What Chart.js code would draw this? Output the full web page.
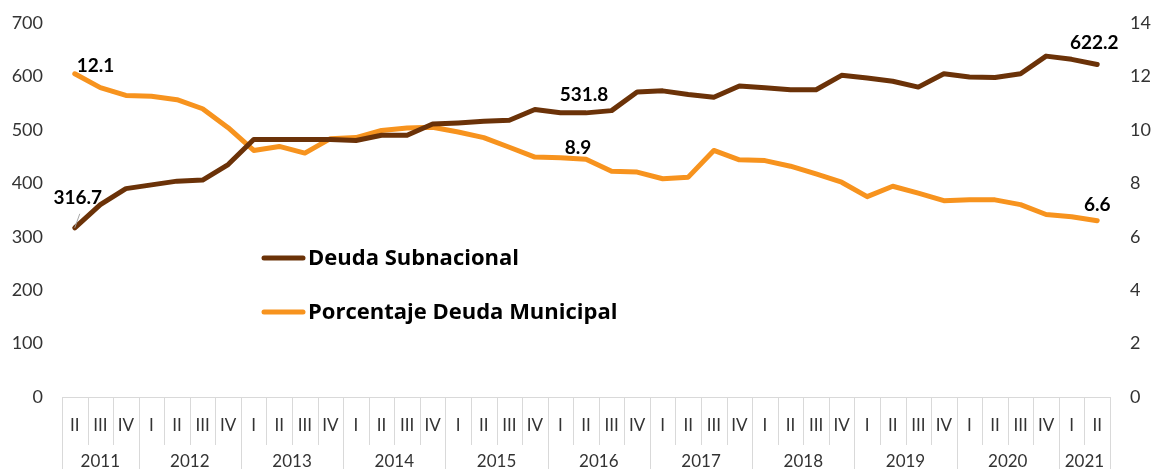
<!DOCTYPE html>
<html>
<head>
<meta charset="utf-8">
<script src="https://cdn.jsdelivr.net/npm/chart.js@4.4.0/dist/chart.umd.min.js"></script>
<style>
html,body{margin:0;padding:0;background:#fff;}
#wrap{width:1156px;height:469px;position:relative;}
</style>
</head>
<body>
<div id="wrap"><canvas id="c" width="1156" height="469"></canvas></div>
<script>
const quarters = ["II","III","IV",
  "I","II","III","IV","I","II","III","IV","I","II","III","IV","I","II","III","IV",
  "I","II","III","IV","I","II","III","IV","I","II","III","IV","I","II","III","IV",
  "I","II","III","IV","I","II"];
const years = ["2011","2012","2013","2014","2015","2016","2017","2018","2019","2020","2021"];
const quartersPerYear = [3,4,4,4,4,4,4,4,4,4,2];
const deudaSubnacional = [316.7,360,390,397,404,406,435,482,482,482,482,480,490,490,511,513,516,518,538,532,531.8,536,571,573,566,561,582,579,575,575,602,597,591,580,605,599,598,605,638,632,622.2];
const porcentajeMunicipal = [12.1,11.58,11.29,11.26,11.13,10.79,10.08,9.23,9.38,9.13,9.67,9.71,9.98,10.07,10.1,9.92,9.71,9.35,8.98,8.96,8.9,8.45,8.42,8.17,8.23,9.23,8.88,8.85,8.64,8.35,8.04,7.5,7.89,7.63,7.35,7.38,7.38,7.2,6.83,6.75,6.6];
const leftTicks = [0,100,200,300,400,500,600,700];
const rightTicks = [0,2,4,6,8,10,12,14];

const FONT = "Lato, 'Open Sans', sans-serif";
const LFONT = "'Open Sans', Lato, sans-serif";
const BROWN = "#6B3208";
const ORANGE = "#F7931E";

const custom = {
  id:'custom',
  afterDraw(chart){
    const ctx = chart.ctx;
    const x = chart.scales.x, ca = chart.chartArea;
    const H = chart.height;
    const step = x.getPixelForValue(1) - x.getPixelForValue(0);
    ctx.save();
    ctx.strokeStyle = "#D9D9D9";
    ctx.lineWidth = 1;
    ctx.beginPath();
    ctx.moveTo(ca.left, ca.bottom + 0.5);
    ctx.lineTo(ca.right, ca.bottom + 0.5);
    ctx.stroke();
    let yearBounds = new Set();
    let acc = 0;
    yearBounds.add(0);
    quartersPerYear.forEach(n => { acc += n; yearBounds.add(acc); });
    for (let i = 0; i <= quarters.length; i++) {
      const px = Math.round(x.getPixelForValue(i) - step/2) + 0.5;
      ctx.beginPath();
      ctx.moveTo(px, ca.bottom);
      ctx.lineTo(px, yearBounds.has(i) ? H : ca.bottom + 48);
      ctx.stroke();
    }
    ctx.fillStyle = "#333";
    ctx.font = "17px " + FONT;
    ctx.textAlign = "center";
    ctx.textBaseline = "middle";
    acc = 0;
    years.forEach((yv, k) => {
      const a = x.getPixelForValue(acc) - step/2;
      acc += quartersPerYear[k];
      const b = x.getPixelForValue(acc - 1) + step/2;
      ctx.fillText(yv, (a+b)/2, 462);
    });
    ctx.fillStyle = "#000";
    ctx.font = "bold 19px " + FONT;
    const m0 = chart.getDatasetMeta(0).data, m1 = chart.getDatasetMeta(1).data;
    const fmt = v => v.toFixed(1);
    ctx.fillText(fmt(deudaSubnacional[0]), m0[0].x + 3, m0[0].y - 30);
    ctx.strokeStyle = "#A6A6A6";
    ctx.lineWidth = 1;
    ctx.beginPath();
    ctx.moveTo(m0[0].x, m0[0].y);
    ctx.lineTo(m0[0].x + 5, m0[0].y - 14);
    ctx.stroke();
    ctx.fillText(fmt(deudaSubnacional[20]), m0[20].x - 2, m0[20].y - 18);
    ctx.fillText(fmt(deudaSubnacional[40]), m0[40].x - 3, m0[40].y - 22);
    ctx.textAlign = "left";
    ctx.fillText(fmt(porcentajeMunicipal[0]), m1[0].x + 2, m1[0].y - 8);
    ctx.textAlign = "center";
    ctx.fillText(fmt(porcentajeMunicipal[20]), m1[20].x - 8, m1[20].y - 11);
    ctx.fillText(fmt(porcentajeMunicipal[40]), m1[40].x, m1[40].y - 16);
    const leg = [[BROWN, "Deuda Subnacional", 258],[ORANGE, "Porcentaje Deuda Municipal", 312]];
    ctx.lineCap = "round";
    ctx.textAlign = "left";
    ctx.font = "bold 22px " + LFONT;
    leg.forEach(([c,t,yy]) => {
      ctx.strokeStyle = c; ctx.lineWidth = 5;
      ctx.beginPath(); ctx.moveTo(264, yy); ctx.lineTo(303, yy); ctx.stroke();
      ctx.fillStyle = "#000";
      ctx.fillText(t, 308, yy + 1);
    });
    ctx.restore();
  }
};

function noPad(s){ s.paddingTop = 0; s.paddingBottom = 0; }

new Chart(document.getElementById('c'), {
  type: 'line',
  data: {
    labels: quarters,
    datasets: [
      {label:"Deuda Subnacional", data: deudaSubnacional, borderColor: BROWN, borderWidth: 5, pointRadius: 0, yAxisID: 'y', tension: 0, borderCapStyle:'round', borderJoinStyle:'round'},
      {label:"Porcentaje Deuda Municipal", data: porcentajeMunicipal, borderColor: ORANGE, borderWidth: 5, pointRadius: 0, yAxisID: 'y1', tension: 0, borderCapStyle:'round', borderJoinStyle:'round'}
    ]
  },
  options: {
    responsive: false,
    animation: false,
    layout: {padding: {top: 23, bottom: 0, left: 0, right: 0}},
    plugins: {legend: {display: false}, tooltip: {enabled: false}},
    scales: {
      x: {
        type: 'category',
        offset: true,
        grid: {display: false, drawTicks: false},
        border: {display: false},
        ticks: {autoSkip: false, maxRotation: 0, minRotation: 0, padding: 18, color: "#333", font: {family: FONT, size: 17}},
        afterFit(s){ s.height = 72; s.paddingLeft = 0; s.paddingRight = 0; }
      },
      y: {
        position: 'left', min: 0, max: 700,
        afterBuildTicks(s){ s.ticks = leftTicks.map(v => ({value: v})); },
        grid: {display: false, drawTicks: false},
        border: {display: false},
        ticks: {padding: 19, color: "#333", font: {family: FONT, size: 18}},
        afterFit(s){ s.width = 62; noPad(s); }
      },
      y1: {
        position: 'right', min: 0, max: 14,
        afterBuildTicks(s){ s.ticks = rightTicks.map(v => ({value: v})); },
        grid: {display: false, drawTicks: false},
        border: {display: false},
        ticks: {padding: 20, color: "#333", font: {family: FONT, size: 18}},
        afterFit(s){ s.width = 46; noPad(s); }
      }
    }
  },
  plugins: [custom]
});
</script>
</body>
</html>
